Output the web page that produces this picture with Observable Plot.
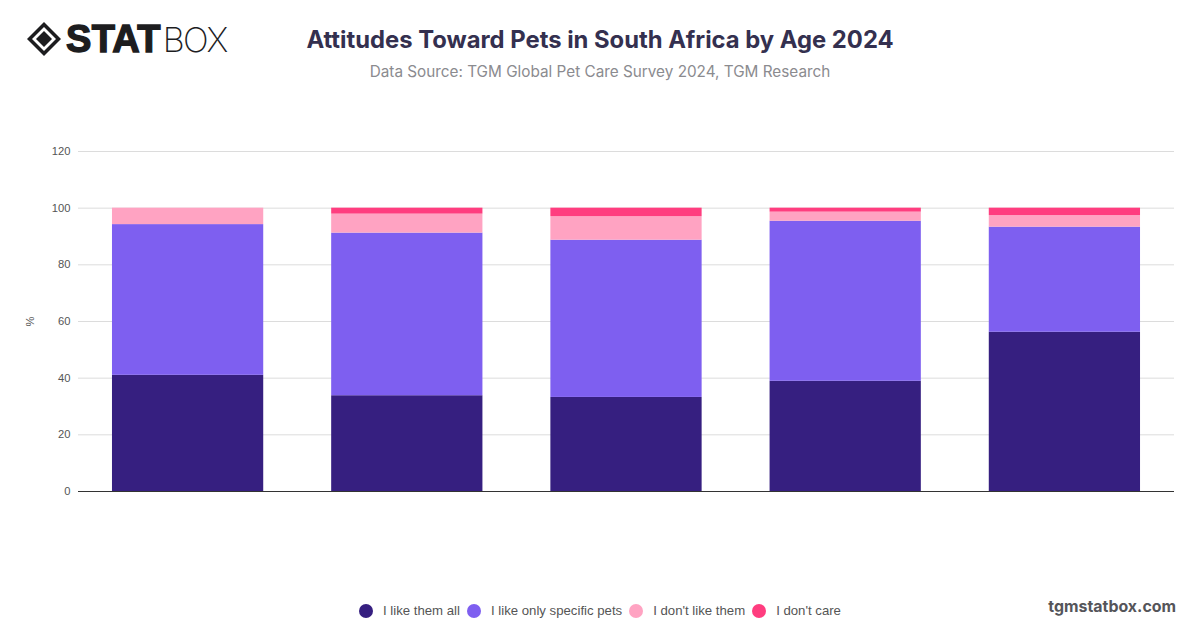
<!DOCTYPE html>
<html>
<head>
<meta charset="utf-8">
<script src="https://cdn.jsdelivr.net/npm/d3@7"></script>
<script src="https://cdn.jsdelivr.net/npm/@observablehq/plot@0.6"></script>
<style>
  html, body { margin: 0; padding: 0; background: #fff; width: 1200px; height: 628px; overflow: hidden; }
  body { position: relative; font-family: "Inter", sans-serif; }
  .abs { position: absolute; white-space: nowrap; }
  #logo { left: 26px; top: 23px; height: 32px; display: flex; align-items: center; color: #1d1d1f; }
  #logo .stat { font-family: "Liberation Sans", sans-serif; font-weight: 700; font-size: 38px; letter-spacing: 0.3px; margin-left: 4px; -webkit-text-stroke: 1.4px #1d1d1f; }
  #logo .box { font-family: "Inter", sans-serif; font-weight: 200; font-size: 34px; letter-spacing: -1.6px; margin-left: 2px; }
  #title { left: 0; width: 1200px; text-align: center; top: 24px; font-size: 23.8px; line-height: 32px; font-weight: 700; color: #34304f; }
  #subtitle { left: 0; width: 1200px; text-align: center; top: 62px; font-size: 15.3px; line-height: 20px; color: #8b8b8f; }
  #chart { left: 0; top: 120px; }
  #legend { left: 359px; top: 602px; display: flex; align-items: center; font-family: "Liberation Sans", sans-serif; font-size: 13.2px; line-height: 18px; color: #555; }
  #legend .item { display: flex; align-items: center; margin-right: 7px; }
  #legend .dot { width: 14px; height: 14px; border-radius: 50%; margin-right: 10px; }
  #site { right: 24px; top: 597px; font-size: 15.9px; line-height: 20px; font-weight: 700; color: #55555a; }
</style>
</head>
<body>
<div class="abs" id="logo">
  <svg width="36" height="36" viewBox="0 0 36 36" aria-hidden="true">
    <path d="M18 1 L35 18 L18 35 L1 18 Z" fill="#1d1d1f"/>
    <path d="M18 6 L30 18 L18 30 L6 18 Z" fill="#fff"/>
    <path d="M18 10 L26 18 L18 26 L10 18 Z" fill="#1d1d1f"/>
  </svg>
  <span class="stat">STAT</span><span class="box">BOX</span>
</div>
<div class="abs" id="title">Attitudes Toward Pets in South Africa by Age 2024</div>
<div class="abs" id="subtitle">Data Source: TGM Global Pet Care Survey 2024, TGM Research</div>
<div class="abs" id="chart"></div>
<div class="abs" id="legend"></div>
<div class="abs" id="site">tgmstatbox.com</div>
<script>
const categories = ["Group 1", "Group 2", "Group 3", "Group 4", "Group 5"];
const seriesNames = ["I like them all", "I like only specific pets", "I don't like them", "I don't care"];
const seriesColors = ["#361f80", "#7e5ff0", "#ffa3c2", "#ff3d7f"];
const likeAll = [41, 33.8, 33.2, 38.9, 56.2];
const likeSpecific = [53.2, 57.4, 55.5, 56.5, 37.1];
const dontLike = [5.8, 6.7, 8.3, 3.2, 4.1];
const dontCare = [0, 2.1, 3, 1.4, 2.6];
const yTicks = [0, 20, 40, 60, 80, 100, 120];

const seriesValues = [likeAll, likeSpecific, dontLike, dontCare];
const rows = seriesNames.flatMap((s, i) =>
  categories.map((c, j) => ({category: c, series: s, value: seriesValues[i][j]})));

const plot = Plot.plot({
  width: 1200,
  height: 390,
  marginLeft: 78,
  marginRight: 26,
  marginTop: 31,
  marginBottom: 19,
  style: {background: "transparent", fontFamily: "'Liberation Sans', sans-serif"},
  x: {domain: categories, paddingInner: 0.31, paddingOuter: 0.155, round: false, axis: null},
  y: {domain: [0, 120]},
  color: {domain: seriesNames, range: seriesColors},
  marks: [
    Plot.gridY(yTicks, {stroke: "#dcdcdc", strokeOpacity: 1, strokeWidth: 1}),
    Plot.barY(rows, {x: "category", y: "value", fill: "series", order: seriesNames}),
    Plot.ruleY([0], {stroke: "#333", strokeWidth: 1}),
    Plot.axisY(yTicks, {
      tickSize: 0, tickPadding: 8, fontSize: 11.2, color: "#555",
      label: "%", labelAnchor: "center", labelArrow: "none", labelOffset: 52
    })
  ]
});
document.getElementById("chart").append(plot);

const legend = d3.select("#legend");
seriesNames.forEach((name, i) => {
  const item = legend.append("div").attr("class", "item");
  item.append("span").attr("class", "dot").style("background", seriesColors[i]);
  item.append("span").text(name);
});
</script>
</body>
</html>
